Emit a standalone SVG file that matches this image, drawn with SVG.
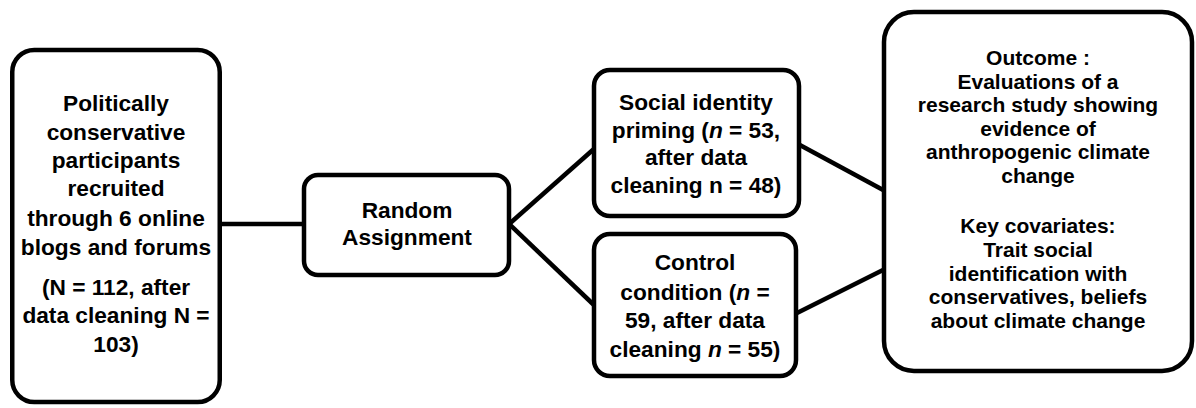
<svg xmlns="http://www.w3.org/2000/svg" width="1196" height="408" viewBox="0 0 1196 408">
<style>
  .box { fill: #ffffff; stroke: #000000; stroke-width: 4.5; }
  .edge { stroke: #000000; stroke-width: 4.5; fill: none; }
  .t { font-family: "Liberation Sans", Arial, sans-serif; font-weight: bold; font-size: 22.7px; fill: #000000; text-anchor: middle; }
  .o { font-size: 21px; }
</style>
<rect width="1196" height="408" fill="#ffffff"/>
<g id="connectors">
  <line class="edge" x1="220" y1="224" x2="304" y2="224"/>
  <line class="edge" x1="508" y1="225" x2="595" y2="148"/>
  <line class="edge" x1="508" y1="223" x2="595" y2="306"/>
  <line class="edge" x1="798" y1="144" x2="885" y2="191"/>
  <line class="edge" x1="795" y1="314" x2="885" y2="269"/>
</g>
<g id="participants">
  <rect class="box" x="12.25" y="50" width="207.5" height="352" rx="22"/>
  <text class="t" x="116" y="111">Politically</text>
  <text class="t" x="116" y="140">conservative</text>
  <text class="t" x="116" y="168">participants</text>
  <text class="t" x="116" y="196">recruited</text>
  <text class="t" x="116" y="226">through 6 online</text>
  <text class="t" x="116" y="255">blogs and forums</text>
  <text class="t" x="116" y="295">(N = 112, after</text>
  <text class="t" x="116" y="323">data cleaning N =</text>
  <text class="t" x="116" y="352">103)</text>
</g>
<g id="random">
  <rect class="box" x="304" y="175" width="205" height="100" rx="14"/>
  <text class="t" x="407" y="218">Random</text>
  <text class="t" x="407" y="245">Assignment</text>
</g>
<g id="social">
  <rect class="box" x="594" y="70" width="205" height="146" rx="16"/>
  <text class="t" x="696" y="110">Social identity</text>
  <text class="t" x="696" y="138">priming (<tspan font-style="italic">n</tspan> = 53,</text>
  <text class="t" x="696" y="165">after data</text>
  <text class="t" x="696" y="193">cleaning n = 48)</text>
</g>
<g id="control">
  <rect class="box" x="594" y="234" width="202" height="142" rx="16"/>
  <text class="t" x="695" y="270">Control</text>
  <text class="t" x="695" y="300">condition (<tspan font-style="italic">n</tspan> =</text>
  <text class="t" x="695" y="328">59, after data</text>
  <text class="t" x="695" y="357">cleaning <tspan font-style="italic">n</tspan> = 55)</text>
</g>
<g id="outcome">
  <rect class="box" x="884" y="12" width="308" height="359" rx="30"/>
  <text class="t o" x="1038" y="65">Outcome :</text>
  <text class="t o" x="1038" y="88.6">Evaluations of a</text>
  <text class="t o" x="1038" y="112.2">research study showing</text>
  <text class="t o" x="1038" y="135.8">evidence of</text>
  <text class="t o" x="1038" y="159.4">anthropogenic climate</text>
  <text class="t o" x="1038" y="183">change</text>
  <text class="t o" x="1038" y="233">Key covariates:</text>
  <text class="t o" x="1038" y="256.8">Trait social</text>
  <text class="t o" x="1038" y="280.5">identification with</text>
  <text class="t o" x="1038" y="304.3">conservatives, beliefs</text>
  <text class="t o" x="1038" y="328">about climate change</text>
</g>
</svg>
